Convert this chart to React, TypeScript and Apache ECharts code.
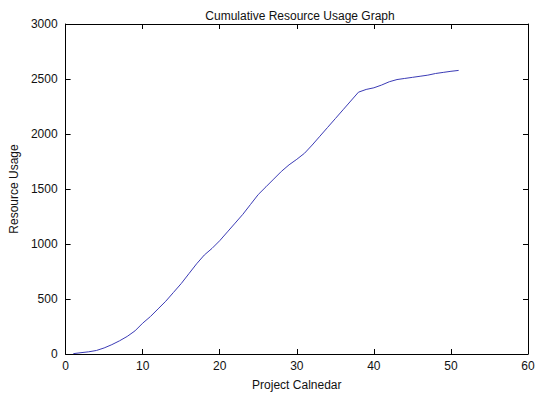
import React, { useEffect, useRef } from "react";
import * as echarts from "echarts";

const titleText = "Cumulative Resource Usage Graph";
const xAxisName = "Project Calnedar";
const yAxisName = "Resource Usage";
const days = [1,2,3,4,5,6,7,8,9,10,11,12,13,14,15,16,17,18,19,20,21,22,23,24,25,26,27,28,29,30,31,32,33,34,35,36,37,38,39,40,41,42,43,44,45,46,47,48,49,50,51];
const usage = [3,12,20,32,55,85,120,160,210,280,340,410,480,560,640,730,820,900,960,1030,1110,1190,1270,1360,1450,1520,1590,1660,1720,1770,1825,1900,1980,2060,2140,2220,2300,2380,2405,2420,2445,2475,2495,2505,2515,2525,2535,2550,2560,2570,2578];

export default function App() {
  const ref = useRef<HTMLDivElement>(null);
  useEffect(() => {
    if (!ref.current) return;
    const chart = echarts.init(ref.current, null, { renderer: "svg" });
    const font = "'Liberation Sans', Arial, Helvetica, sans-serif";
    const axisLine = { show: true, onZero: false, lineStyle: { color: "#000", width: 1 } };
    const axisTick = { show: true, inside: true, length: 5, lineStyle: { color: "#000" } };
    chart.setOption({
      animation: false,
      backgroundColor: "#fff",
      title: {
        text: titleText,
        left: 295,
        textAlign: "center",
        top: 5,
        textStyle: { fontFamily: font, fontSize: 12, fontWeight: "normal", color: "#111" },
      },
      grid: { left: 62, right: 11, top: 24, bottom: 40, containLabel: false },
      xAxis: [
        {
          type: "value",
          min: 0,
          max: 60,
          interval: 10,
          position: "bottom",
          name: xAxisName,
          nameLocation: "middle",
          nameGap: 25,
          nameTextStyle: { fontFamily: font, fontSize: 12, color: "#111" },
          axisLine,
          axisTick,
          splitLine: { show: false },
          axisLabel: { fontFamily: font, fontSize: 12, color: "#111", margin: 6 },
        },
        {
          type: "value",
          min: 0,
          max: 60,
          interval: 10,
          position: "top",
          axisLine,
          axisTick,
          splitLine: { show: false },
          axisLabel: { show: false },
        },
      ],
      yAxis: [
        {
          type: "value",
          min: 0,
          max: 3000,
          interval: 500,
          position: "left",
          name: yAxisName,
          nameLocation: "middle",
          nameGap: 42,
          nameTextStyle: { fontFamily: font, fontSize: 12, color: "#111" },
          axisLine,
          axisTick,
          splitLine: { show: false },
          axisLabel: { fontFamily: font, fontSize: 12, color: "#111", margin: 8, formatter: (v: number) => String(v) },
        },
        {
          type: "value",
          min: 0,
          max: 3000,
          interval: 500,
          position: "right",
          axisLine,
          axisTick,
          splitLine: { show: false },
          axisLabel: { show: false },
        },
      ],
      series: [
        {
          type: "line",
          data: days.map((d, i) => [d, usage[i]]),
          showSymbol: false,
          lineStyle: { color: "#3b3bb5", width: 1 },
          xAxisIndex: 0,
          yAxisIndex: 0,
        },
      ],
    });
    return () => chart.dispose();
  }, []);
  return <div ref={ref} style={{ position: "fixed", left: 0, top: 0, width: 539, height: 396 }} />;
}
